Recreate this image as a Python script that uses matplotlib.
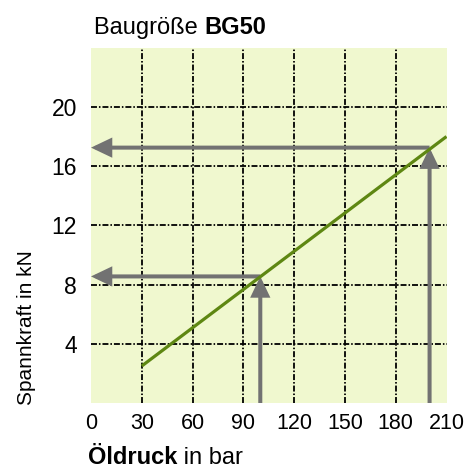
import matplotlib
matplotlib.use("Agg")
import matplotlib.pyplot as plt

# data
line_x = [30, 210]
line_y = [2.5, 18.0]
read_x = [100, 200]
read_y = [8.55, 17.25]
x_ticks = [0, 30, 60, 90, 120, 150, 180, 210]
y_ticks = [4, 8, 12, 16, 20]
title_regular = "Baugröße "
title_bold = "BG50"
xlabel_bold = "Öldruck"
xlabel_regular = " in bar"
ylabel = "Spannkraft in kN"

plt.rcParams['font.family'] = ['Liberation Sans', 'DejaVu Sans']

fig = plt.figure(figsize=(4.75, 4.68), dpi=100)
ax = fig.add_axes([91/475, 1-403/468, (446.5-91)/475, (403-47.7)/468])
ax.set_facecolor('#F0F8CF')
ax.set_xlim(0, 210)
ax.set_ylim(0, 24)
for s in ax.spines.values():
    s.set_visible(False)

ax.set_xticks(x_ticks)
ax.set_yticks(y_ticks)
ax.tick_params(axis='both', length=0)
ax.tick_params(axis='x', labelsize=15.5, pad=7)
ax.tick_params(axis='y', labelsize=16.5, pad=10)

# grid (interior only)
gls = (0, (3.3, 1.1, 0.85, 1.1))
for xv in x_ticks[1:-1]:
    ax.axvline(xv, color='black', lw=1.3, ls=gls, zorder=1)
for yv in y_ticks:
    ax.axhline(yv, color='black', lw=1.3, ls=gls, zorder=1)

# reading arrows
gray = '#727272'
style = '-|>,head_length=1.05,head_width=0.5'
for rx, ry in zip(read_x, read_y):
    ax.annotate('', xy=(rx, ry), xytext=(rx, 0),
                arrowprops=dict(arrowstyle=style, color=gray, lw=2.9,
                                mutation_scale=10, shrinkA=0, shrinkB=0,
                                capstyle='butt', joinstyle='miter'),
                zorder=3, annotation_clip=False)
    ax.annotate('', xy=(0, ry), xytext=(rx, ry),
                arrowprops=dict(arrowstyle=style, color=gray, lw=2.9,
                                mutation_scale=10, shrinkA=0, shrinkB=0,
                                capstyle='butt', joinstyle='miter'),
                zorder=3, annotation_clip=False)

ax.plot(line_x, line_y, color='#5E8712', lw=2.3, zorder=4, solid_capstyle='butt')

# title with bold part
t1 = fig.text(94/475, 1-34/468, title_regular, fontsize=17, ha='left', va='baseline')
ax.annotate(title_bold, xy=(1, 0), xycoords=t1, fontsize=17, fontweight='bold',
            ha='left', va='bottom')

# xlabel with bold part
t2 = fig.text(88/475, 1-464/468, xlabel_bold, fontsize=17, fontweight='bold',
              ha='left', va='baseline')
ax.annotate(xlabel_regular, xy=(1, 0), xycoords=t2, fontsize=17,
            ha='left', va='bottom')

fig.text(27/475, 1-405/468, ylabel, fontsize=15, rotation=90, ha='center', va='bottom')

fig.savefig('out.png', dpi=100)
